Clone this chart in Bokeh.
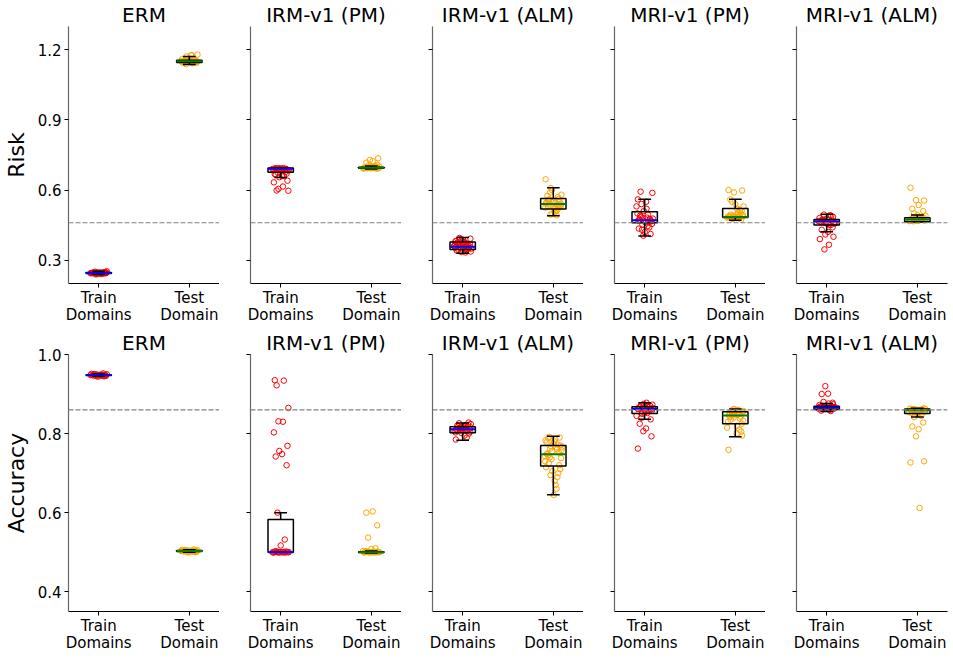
from bokeh.plotting import figure
from bokeh.layouts import column, row
from bokeh.models import FixedTicker, Span, Range1d, LinearAxis
from bokeh.embed import file_html
from bokeh.resources import INLINE

METHODS = ["ERM", "IRM-v1 (PM)", "IRM-v1 (ALM)", "MRI-v1 (PM)", "MRI-v1 (ALM)"]
X_TICKS = [1, 2]
X_LABELS_LINE1 = {1: "Train", 2: "Test"}
X_LABELS_LINE2 = {1: "Domains", 2: "Domain"}
RISK_TICKS = [0.3, 0.6, 0.9, 1.2]
ACC_TICKS = [0.4, 0.6, 0.8, 1.0]
RISK_RANGE = (0.2, 1.3)
ACC_RANGE = (0.35, 1.0)
RISK_REF = 0.46
ACC_REF = 0.86

# ---------------- Risk: per-run values ----------------
RISK_TRAIN_ERM = [0.245, 0.243, 0.247, 0.244, 0.246, 0.242, 0.248, 0.245, 0.241, 0.250, 0.244, 0.246, 0.243, 0.247, 0.245,
                  0.239, 0.252, 0.244, 0.246, 0.245, 0.243, 0.248, 0.244, 0.246, 0.242, 0.249, 0.245, 0.247, 0.244, 0.246]
RISK_TEST_ERM = [1.150, 1.148, 1.153, 1.145, 1.156, 1.152, 1.147, 1.160, 1.143, 1.155, 1.150, 1.149, 1.158, 1.146, 1.176,
                 1.172, 1.180, 1.151, 1.154, 1.144, 1.139, 1.157, 1.150, 1.148, 1.162, 1.153, 1.145, 1.178, 1.151, 1.149]
RISK_TRAIN_IRM_PM = [0.690, 0.688, 0.692, 0.685, 0.693, 0.689, 0.691, 0.687, 0.694, 0.690, 0.686, 0.692, 0.689, 0.693, 0.688,
                     0.691, 0.684, 0.690, 0.692, 0.687, 0.675, 0.670, 0.665, 0.660, 0.655, 0.640, 0.633, 0.615, 0.605, 0.597,
                     0.598, 0.660, 0.668, 0.678]
RISK_TEST_IRM_PM = [0.695, 0.694, 0.697, 0.693, 0.696, 0.698, 0.692, 0.695, 0.699, 0.694, 0.696, 0.693, 0.697, 0.695, 0.694,
                    0.696, 0.700, 0.692, 0.701, 0.703, 0.705, 0.708, 0.717, 0.724, 0.729, 0.736, 0.695, 0.697]
RISK_TRAIN_IRM_ALM = [0.357, 0.362, 0.350, 0.368, 0.345, 0.372, 0.355, 0.380, 0.340, 0.365, 0.352, 0.385, 0.348, 0.375, 0.358,
                      0.390, 0.337, 0.360, 0.370, 0.343, 0.395, 0.353, 0.366, 0.378, 0.335, 0.359, 0.382, 0.347, 0.363, 0.392,
                      0.356, 0.373, 0.341, 0.368, 0.354, 0.387, 0.349, 0.361, 0.333, 0.376]
RISK_TEST_IRM_ALM = [0.540, 0.535, 0.548, 0.528, 0.555, 0.520, 0.562, 0.545, 0.510, 0.538, 0.552, 0.500, 0.570, 0.530, 0.543,
                     0.495, 0.580, 0.525, 0.550, 0.515, 0.590, 0.537, 0.558, 0.505, 0.600, 0.533, 0.547, 0.522, 0.608, 0.541,
                     0.560, 0.492, 0.575, 0.527, 0.646, 0.553]
RISK_TRAIN_MRI_PM = [0.470, 0.465, 0.480, 0.455, 0.490, 0.460, 0.475, 0.500, 0.445, 0.485, 0.468, 0.510, 0.440, 0.472, 0.520,
                     0.430, 0.478, 0.530, 0.420, 0.462, 0.540, 0.412, 0.474, 0.550, 0.405, 0.466, 0.560, 0.482, 0.452, 0.588,
                     0.593, 0.495, 0.435, 0.476]
RISK_TEST_MRI_PM = [0.485, 0.483, 0.490, 0.487, 0.495, 0.480, 0.500, 0.486, 0.505, 0.478, 0.510, 0.484, 0.515, 0.489, 0.520,
                    0.476, 0.530, 0.482, 0.540, 0.488, 0.550, 0.473, 0.560, 0.492, 0.590, 0.598, 0.600, 0.486, 0.483, 0.493]
RISK_TRAIN_MRI_ALM = [0.465, 0.462, 0.470, 0.458, 0.474, 0.455, 0.468, 0.480, 0.452, 0.466, 0.485, 0.460, 0.490, 0.463, 0.472,
                      0.495, 0.457, 0.467, 0.478, 0.450, 0.469, 0.440, 0.430, 0.421, 0.410, 0.400, 0.390, 0.366, 0.346, 0.464,
                      0.471, 0.492]
RISK_TEST_MRI_ALM = [0.474, 0.472, 0.476, 0.470, 0.478, 0.468, 0.480, 0.473, 0.475, 0.466, 0.482, 0.471, 0.477, 0.469, 0.485,
                     0.474, 0.490, 0.467, 0.493, 0.473, 0.500, 0.510, 0.520, 0.536, 0.557, 0.555, 0.610, 0.476, 0.472]

# box statistics: (whisker_low, q1, median, q3, whisker_high)
RISK_TRAIN_BOX = [(0.239, 0.243, 0.245, 0.247, 0.252),
                  (0.654, 0.676, 0.691, 0.694, 0.695),
                  (0.330, 0.346, 0.357, 0.378, 0.397),
                  (0.403, 0.460, 0.471, 0.507, 0.561),
                  (0.421, 0.450, 0.465, 0.474, 0.496)]
RISK_TEST_BOX = [(1.137, 1.146, 1.151, 1.156, 1.172),
                 (0.690, 0.693, 0.695, 0.698, 0.703),
                 (0.490, 0.519, 0.540, 0.564, 0.610),
                 (0.471, 0.483, 0.485, 0.521, 0.561),
                 (0.463, 0.464, 0.474, 0.481, 0.493)]

# ---------------- Accuracy: per-run values ----------------
ACC_TRAIN_ERM = [0.948, 0.947, 0.949, 0.946, 0.950, 0.948, 0.945, 0.951, 0.947, 0.949, 0.948, 0.944, 0.952, 0.947, 0.949,
                 0.946, 0.950, 0.948, 0.947, 0.949, 0.948, 0.946, 0.950, 0.947, 0.949, 0.948]
ACC_TEST_ERM = [0.503, 0.502, 0.504, 0.501, 0.505, 0.503, 0.500, 0.506, 0.502, 0.504, 0.503, 0.499, 0.507, 0.502, 0.504,
                0.501, 0.505, 0.503, 0.502, 0.504, 0.503, 0.501, 0.505, 0.502, 0.504, 0.503]
ACC_TRAIN_IRM_PM = [0.500, 0.501, 0.499, 0.500, 0.502, 0.500, 0.501, 0.499, 0.500, 0.500, 0.501, 0.500, 0.499, 0.502, 0.500,
                    0.501, 0.500, 0.500, 0.517, 0.532, 0.600, 0.720, 0.742, 0.748, 0.756, 0.769, 0.803, 0.830, 0.831, 0.865,
                    0.922, 0.934, 0.935]
ACC_TEST_IRM_PM = [0.500, 0.501, 0.499, 0.500, 0.502, 0.500, 0.501, 0.499, 0.500, 0.500, 0.501, 0.500, 0.499, 0.502, 0.500,
                   0.501, 0.500, 0.503, 0.508, 0.510, 0.537, 0.568, 0.600, 0.603]
ACC_TRAIN_IRM_ALM = [0.811, 0.808, 0.815, 0.805, 0.818, 0.810, 0.822, 0.803, 0.813, 0.826, 0.800, 0.816, 0.809, 0.820, 0.795,
                     0.812, 0.824, 0.806, 0.817, 0.790, 0.814, 0.828, 0.807, 0.819, 0.802, 0.812, 0.785, 0.821, 0.809, 0.816]
ACC_TEST_IRM_ALM = [0.748, 0.760, 0.735, 0.770, 0.725, 0.780, 0.752, 0.715, 0.765, 0.740, 0.790, 0.705, 0.772, 0.745, 0.785,
                    0.695, 0.758, 0.730, 0.775, 0.690, 0.762, 0.720, 0.788, 0.680, 0.755, 0.710, 0.778, 0.670, 0.768, 0.738,
                    0.792, 0.660, 0.750, 0.700, 0.783, 0.645, 0.765, 0.742]
ACC_TRAIN_MRI_PM = [0.862, 0.860, 0.865, 0.858, 0.868, 0.855, 0.870, 0.863, 0.852, 0.872, 0.861, 0.875, 0.857, 0.866, 0.878,
                    0.850, 0.864, 0.845, 0.859, 0.867, 0.840, 0.836, 0.825, 0.813, 0.806, 0.793, 0.762, 0.869, 0.856, 0.873]
ACC_TEST_MRI_PM = [0.846, 0.850, 0.840, 0.855, 0.835, 0.858, 0.843, 0.830, 0.860, 0.848, 0.825, 0.862, 0.838, 0.852, 0.820,
                   0.845, 0.857, 0.815, 0.849, 0.810, 0.853, 0.805, 0.842, 0.800, 0.856, 0.795, 0.759, 0.847, 0.861, 0.833]
ACC_TRAIN_MRI_ALM = [0.866, 0.865, 0.868, 0.863, 0.870, 0.862, 0.867, 0.872, 0.860, 0.866, 0.874, 0.864, 0.869, 0.858, 0.876,
                     0.865, 0.867, 0.863, 0.871, 0.857, 0.880, 0.878, 0.900, 0.901, 0.920, 0.866, 0.868, 0.864]
ACC_TEST_MRI_ALM = [0.859, 0.858, 0.861, 0.856, 0.862, 0.855, 0.860, 0.863, 0.853, 0.859, 0.864, 0.857, 0.861, 0.852, 0.860,
                    0.858, 0.862, 0.854, 0.849, 0.845, 0.842, 0.828, 0.818, 0.811, 0.793, 0.730, 0.727, 0.612, 0.860, 0.857]

ACC_TRAIN_BOX = [(0.945, 0.947, 0.948, 0.949, 0.951),
                 (0.500, 0.500, 0.500, 0.583, 0.600),
                 (0.783, 0.802, 0.811, 0.817, 0.827),
                 (0.836, 0.851, 0.862, 0.868, 0.878),
                 (0.856, 0.861, 0.866, 0.869, 0.876)]
ACC_TEST_BOX = [(0.500, 0.502, 0.503, 0.504, 0.506),
                (0.498, 0.499, 0.500, 0.501, 0.503),
                (0.645, 0.718, 0.748, 0.770, 0.793),
                (0.792, 0.825, 0.846, 0.855, 0.862),
                (0.842, 0.851, 0.859, 0.862, 0.864)]

RISK_TRAIN = [RISK_TRAIN_ERM, RISK_TRAIN_IRM_PM, RISK_TRAIN_IRM_ALM, RISK_TRAIN_MRI_PM, RISK_TRAIN_MRI_ALM]
RISK_TEST = [RISK_TEST_ERM, RISK_TEST_IRM_PM, RISK_TEST_IRM_ALM, RISK_TEST_MRI_PM, RISK_TEST_MRI_ALM]
ACC_TRAIN = [ACC_TRAIN_ERM, ACC_TRAIN_IRM_PM, ACC_TRAIN_IRM_ALM, ACC_TRAIN_MRI_PM, ACC_TRAIN_MRI_ALM]
ACC_TEST = [ACC_TEST_ERM, ACC_TEST_IRM_PM, ACC_TEST_IRM_ALM, ACC_TEST_MRI_PM, ACC_TEST_MRI_ALM]

# fixed horizontal jitter pattern for the strip points (style only)
JITTER = [-0.07, 0.04, -0.02, 0.08, -0.05, 0.01, 0.06, -0.08, 0.03, -0.04, 0.07, -0.01, 0.05, -0.06, 0.02,
          -0.03, 0.09, -0.09, 0.0, 0.045, -0.035, 0.065, -0.055, 0.015, -0.015, 0.075, -0.075, 0.025, -0.025,
          0.085, -0.045, 0.035, -0.065, 0.055, -0.085, 0.005, 0.095, -0.095, 0.03, -0.05]

FONT = "DejaVu Sans"
BOX_W = 0.28
FRAME_W = 151
FRAME_H = 257


def style_x_axis(ax, labels, tick_out, line_color, standoff):
    ax.ticker = FixedTicker(ticks=X_TICKS)
    ax.major_label_overrides = labels
    ax.major_label_text_font = FONT
    ax.major_label_text_font_size = "15px"
    ax.major_label_text_color = "black"
    ax.major_label_standoff = standoff
    ax.major_tick_out = tick_out
    ax.major_tick_in = 0
    ax.minor_tick_out = 0
    ax.minor_tick_in = 0
    ax.axis_line_color = line_color
    ax.axis_line_width = 1.2


def make_panel(title, train, test, train_box, test_box, yrange, yticks, ref, ylabel, first, top):
    p = figure(frame_width=FRAME_W, frame_height=FRAME_H,
               x_range=Range1d(0.667, 2.333), y_range=Range1d(*yrange),
               output_backend="svg", toolbar_location=None, title=title,
               min_border_left=60 if first else 31, min_border_right=6 if title == METHODS[-1] else 0,
               min_border_top=19, min_border_bottom=45 if top else 40)
    p.title.text_font = FONT
    p.title.text_font_size = "20px"
    p.title.text_font_style = "normal"
    p.title.text_color = "black"
    p.title.align = "center"
    p.title.standoff = 0
    p.outline_line_color = None
    p.xgrid.visible = False
    p.ygrid.visible = False

    style_x_axis(p.xaxis[0], X_LABELS_LINE1, 4, "black", 1)
    ax2 = LinearAxis()
    style_x_axis(ax2, X_LABELS_LINE2, 0, None, -4)
    ax2.major_tick_line_color = None
    p.add_layout(ax2, "below")

    ya = p.yaxis[0]
    ya.ticker = FixedTicker(ticks=yticks)
    ya.major_tick_out = 4
    ya.major_tick_in = 0
    ya.minor_tick_out = 0
    ya.minor_tick_in = 0
    ya.axis_line_color = "#666666"
    ya.axis_line_width = 1.2
    ya.major_label_text_font = FONT
    ya.major_label_text_font_size = "15px"
    ya.major_label_text_color = "black"
    ya.major_label_standoff = 3
    if first:
        ya.major_label_overrides = {t: f"{t:.1f}" for t in yticks}
        ya.axis_label = ylabel
        ya.axis_label_text_font = FONT
        ya.axis_label_text_font_size = "22px"
        ya.axis_label_text_font_style = "normal"
        ya.axis_label_text_color = "black"
        ya.axis_label_standoff = 6
    else:
        ya.major_label_overrides = {t: "" for t in yticks}

    p.add_layout(Span(location=ref, dimension="width", line_color="gray",
                      line_dash="5 2", line_width=1.2))

    groups = [(1, train, train_box, "red", "blue"), (2, test, test_box, "orange", "green")]
    for pos, vals, box, pcol, mcol in groups:
        xs = [pos + JITTER[i % len(JITTER)] for i in range(len(vals))]
        p.scatter(xs, vals, marker="circle", size=5.5, fill_color=None, line_color=pcol, line_width=1)
    for pos, vals, box, pcol, mcol in groups:
        wl, q1, med, q3, wh = box
        p.segment(x0=[pos, pos], y0=[q3, q1], x1=[pos, pos], y1=[wh, wl], line_color="black", line_width=1.5)
        p.segment(x0=[pos - BOX_W / 4] * 2, y0=[wh, wl], x1=[pos + BOX_W / 4] * 2, y1=[wh, wl],
                  line_color="black", line_width=1.5)
        p.quad(left=[pos - BOX_W / 2], right=[pos + BOX_W / 2], bottom=[q1], top=[q3],
               fill_color=None, line_color="black", line_width=1.5)
        p.segment(x0=[pos - BOX_W / 2], y0=[med], x1=[pos + BOX_W / 2], y1=[med], line_color=mcol, line_width=2)
    return p


top_row = [make_panel(METHODS[i], RISK_TRAIN[i], RISK_TEST[i], RISK_TRAIN_BOX[i], RISK_TEST_BOX[i],
                      RISK_RANGE, RISK_TICKS, RISK_REF, "Risk", i == 0, True) for i in range(5)]
bottom_row = [make_panel(METHODS[i], ACC_TRAIN[i], ACC_TEST[i], ACC_TRAIN_BOX[i], ACC_TEST_BOX[i],
                         ACC_RANGE, ACC_TICKS, ACC_REF, "Accuracy", i == 0, False) for i in range(5)]

layout = column(row(*top_row), row(*bottom_row))
open("out.html", "w").write(file_html(layout, INLINE))
